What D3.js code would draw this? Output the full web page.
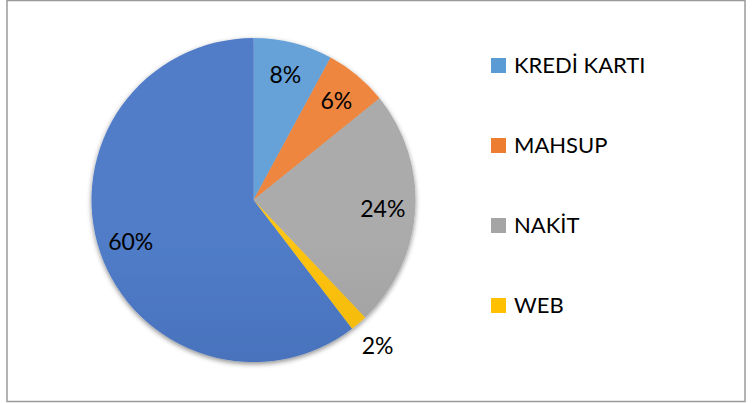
<!DOCTYPE html>
<html>
<head>
<meta charset="utf-8">
<script src="https://cdn.jsdelivr.net/npm/d3@7"></script>
<style>
  body { margin: 0; background: #fff; }
  svg { display: block; }
  text { font-family: Lato, "Open Sans", sans-serif; fill: #000; }
</style>
</head>
<body>
<div id="chart"></div>
<script>
// chart data
var categories = ["KREDİ KARTI", "MAHSUP", "NAKİT", "WEB", "DİĞER"];
var values = [7.9, 6.3, 23.7, 1.7, 60.4];
var labels = ["8%", "6%", "24%", "2%", "60%"];
var colors = ["#5B9BD5", "#ED7D31", "#A5A5A5", "#FFC000", "#4472C4"];
var legend_count = 4;

var width = 752, height = 403;
var cx = 253.5, cy = 200, radius = 162;

var svg = d3.select("#chart").append("svg")
    .attr("width", width)
    .attr("height", height);

// outer frame
svg.append("rect")
    .attr("x", 7)
    .attr("y", 0.5)
    .attr("width", 738)
    .attr("height", 401)
    .attr("fill", "#fff")
    .attr("stroke", "#9a9a9a")
    .attr("stroke-width", 1.5);

var defs = svg.append("defs");

var shadow = defs.append("filter")
    .attr("id", "shadow")
    .attr("x", "-20%").attr("y", "-20%")
    .attr("width", "140%").attr("height", "140%");
shadow.append("feDropShadow")
    .attr("dx", 0).attr("dy", 2)
    .attr("stdDeviation", 2.5)
    .attr("flood-color", "#000")
    .attr("flood-opacity", 0.45);

colors.forEach(function(c, i){
    var g = defs.append("linearGradient")
        .attr("id", "grad" + i)
        .attr("gradientUnits", "userSpaceOnUse")
        .attr("x1", 0).attr("y1", cy - radius)
        .attr("x2", 0).attr("y2", cy + radius);
    g.append("stop").attr("offset", "0%").attr("stop-color", d3.interpolateRgb(c, "#fff")(0.07));
    g.append("stop").attr("offset", "100%").attr("stop-color", d3.color(c).darker(0.4));
});

var pie = d3.pie().sort(null).value(function(d){ return d; });
var arcs = pie(values);

var arc = d3.arc().innerRadius(0).outerRadius(radius);
var label_arc = d3.arc().innerRadius(radius * 0.8).outerRadius(radius * 0.8);
var outside_arc = d3.arc().innerRadius(radius * 1.18).outerRadius(radius * 1.18);

var pie_g = svg.append("g")
    .attr("transform", "translate(" + cx + "," + cy + ")");

pie_g.append("g")
    .attr("filter", "url(#shadow)")
    .selectAll("path")
    .data(arcs)
    .enter().append("path")
    .attr("d", arc)
    .attr("fill", function(d, i){ return "url(#grad" + i + ")"; });

pie_g.selectAll("text")
    .data(arcs)
    .enter().append("text")
    .attr("transform", function(d){
        var p = (d.value < 3 ? outside_arc : label_arc).centroid(d);
        return "translate(" + p[0] + "," + p[1] + ")";
    })
    .attr("text-anchor", "middle")
    .attr("dy", "0.36em")
    .attr("font-size", "23px")
    .text(function(d, i){ return labels[i]; });

// legend
var legend = svg.append("g")
    .attr("transform", "translate(491,58)");

var item = legend.selectAll("g")
    .data(categories.slice(0, legend_count))
    .enter().append("g")
    .attr("transform", function(d, i){ return "translate(0," + (i * 80) + ")"; });

item.append("rect")
    .attr("width", 15)
    .attr("height", 15)
    .attr("fill", function(d, i){ return colors[i]; });

item.append("text")
    .attr("x", 23)
    .attr("y", 7.5)
    .attr("dy", "0.36em")
    .attr("font-size", "22px")
    .text(function(d){ return d; });
</script>
</body>
</html>
